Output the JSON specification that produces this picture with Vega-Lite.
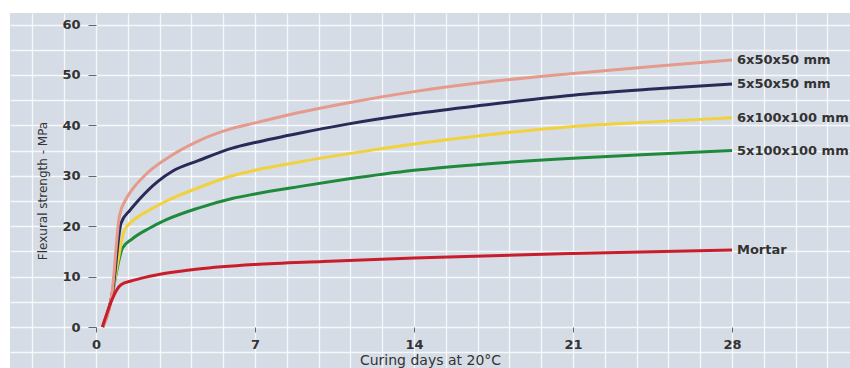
{
  "$schema": "https://vega.github.io/schema/vega-lite/v6.json",
  "width": 840,
  "height": 355,
  "autosize": {"type": "none"},
  "padding": {"left": 10, "top": 13, "right": 0, "bottom": 0},
  "background": "white",
  "config": {"view": {"fill": "#d5dce6", "stroke": null}, "font": "DejaVu Sans"},
  "datasets": {
    "curves": [
      {"series": "5x100x100 mm", "day": 0.3, "value": 0},
      {"series": "5x100x100 mm", "day": 0.72, "value": 6.5},
      {"series": "5x100x100 mm", "day": 0.9, "value": 10.9},
      {"series": "5x100x100 mm", "day": 1.16, "value": 15.6},
      {"series": "5x100x100 mm", "day": 1.6, "value": 17.5},
      {"series": "5x100x100 mm", "day": 2.35, "value": 19.6},
      {"series": "5x100x100 mm", "day": 3.1, "value": 21.3},
      {"series": "5x100x100 mm", "day": 4.5, "value": 23.6},
      {"series": "5x100x100 mm", "day": 6, "value": 25.5},
      {"series": "5x100x100 mm", "day": 7, "value": 26.4},
      {"series": "5x100x100 mm", "day": 9, "value": 27.9},
      {"series": "5x100x100 mm", "day": 11, "value": 29.3},
      {"series": "5x100x100 mm", "day": 14, "value": 31.1},
      {"series": "5x100x100 mm", "day": 17, "value": 32.3},
      {"series": "5x100x100 mm", "day": 21, "value": 33.5},
      {"series": "5x100x100 mm", "day": 24.5, "value": 34.3},
      {"series": "5x100x100 mm", "day": 28, "value": 35.0},
      {"series": "6x100x100 mm", "day": 0.3, "value": 0},
      {"series": "6x100x100 mm", "day": 0.75, "value": 7.3},
      {"series": "6x100x100 mm", "day": 0.95, "value": 12.7},
      {"series": "6x100x100 mm", "day": 1.25, "value": 19.2},
      {"series": "6x100x100 mm", "day": 1.6, "value": 21.0},
      {"series": "6x100x100 mm", "day": 2.35, "value": 23.2},
      {"series": "6x100x100 mm", "day": 3.1, "value": 25.0},
      {"series": "6x100x100 mm", "day": 4.5, "value": 27.6},
      {"series": "6x100x100 mm", "day": 6, "value": 30.0},
      {"series": "6x100x100 mm", "day": 7, "value": 31.1},
      {"series": "6x100x100 mm", "day": 9, "value": 32.8},
      {"series": "6x100x100 mm", "day": 11, "value": 34.3},
      {"series": "6x100x100 mm", "day": 14, "value": 36.3},
      {"series": "6x100x100 mm", "day": 17, "value": 38.0},
      {"series": "6x100x100 mm", "day": 21, "value": 39.8},
      {"series": "6x100x100 mm", "day": 24.5, "value": 40.7},
      {"series": "6x100x100 mm", "day": 28, "value": 41.5},
      {"series": "5x50x50 mm", "day": 0.3, "value": 0},
      {"series": "5x50x50 mm", "day": 0.74, "value": 7.3},
      {"series": "5x50x50 mm", "day": 1.1, "value": 20.6},
      {"series": "5x50x50 mm", "day": 1.5, "value": 23.2},
      {"series": "5x50x50 mm", "day": 1.9, "value": 25.3},
      {"series": "5x50x50 mm", "day": 2.7, "value": 28.8},
      {"series": "5x50x50 mm", "day": 3.4, "value": 31.0},
      {"series": "5x50x50 mm", "day": 4.5, "value": 33.0},
      {"series": "5x50x50 mm", "day": 6, "value": 35.5},
      {"series": "5x50x50 mm", "day": 7, "value": 36.6},
      {"series": "5x50x50 mm", "day": 9, "value": 38.5},
      {"series": "5x50x50 mm", "day": 11, "value": 40.2},
      {"series": "5x50x50 mm", "day": 14, "value": 42.3},
      {"series": "5x50x50 mm", "day": 17, "value": 44.0},
      {"series": "5x50x50 mm", "day": 21, "value": 46.0},
      {"series": "5x50x50 mm", "day": 24.5, "value": 47.2},
      {"series": "5x50x50 mm", "day": 28, "value": 48.2},
      {"series": "6x50x50 mm", "day": 0.3, "value": 0},
      {"series": "6x50x50 mm", "day": 0.72, "value": 7.3},
      {"series": "6x50x50 mm", "day": 1.03, "value": 22.0},
      {"series": "6x50x50 mm", "day": 1.3, "value": 25.2},
      {"series": "6x50x50 mm", "day": 1.55, "value": 27.0},
      {"series": "6x50x50 mm", "day": 2.2, "value": 30.3},
      {"series": "6x50x50 mm", "day": 3.1, "value": 33.4},
      {"series": "6x50x50 mm", "day": 4.5, "value": 36.9},
      {"series": "6x50x50 mm", "day": 6, "value": 39.4},
      {"series": "6x50x50 mm", "day": 7, "value": 40.5},
      {"series": "6x50x50 mm", "day": 9, "value": 42.6},
      {"series": "6x50x50 mm", "day": 11, "value": 44.4},
      {"series": "6x50x50 mm", "day": 14, "value": 46.7},
      {"series": "6x50x50 mm", "day": 17, "value": 48.5},
      {"series": "6x50x50 mm", "day": 21, "value": 50.3},
      {"series": "6x50x50 mm", "day": 24.5, "value": 51.7},
      {"series": "6x50x50 mm", "day": 28, "value": 53.0},
      {"series": "Mortar", "day": 0.28, "value": 0},
      {"series": "Mortar", "day": 1.1, "value": 8.4},
      {"series": "Mortar", "day": 1.6, "value": 9.2},
      {"series": "Mortar", "day": 2.2, "value": 9.9},
      {"series": "Mortar", "day": 3, "value": 10.6},
      {"series": "Mortar", "day": 4.5, "value": 11.5},
      {"series": "Mortar", "day": 7, "value": 12.4},
      {"series": "Mortar", "day": 10, "value": 13.0},
      {"series": "Mortar", "day": 14, "value": 13.7},
      {"series": "Mortar", "day": 21, "value": 14.6},
      {"series": "Mortar", "day": 28, "value": 15.3}
    ]
  },
  "data": {"name": "curves"},
  "encoding": {
    "x": {
      "field": "day",
      "type": "quantitative",
      "scale": {"domain": [-3.786, 33.195], "nice": false, "zero": false},
      "axis": {
        "values": [-2.8, -1.4, 0, 1.4, 2.8, 4.2, 5.6, 7, 8.4, 9.8, 11.2, 12.6, 14, 15.4, 16.8, 18.2, 19.6, 21, 22.4, 23.8, 25.2, 26.6, 28, 29.4, 30.8, 32.2],
        "offset": -41,
        "domain": false,
        "grid": true,
        "gridColor": "white",
        "gridWidth": 1.3,
        "gridOpacity": 0.8,
        "tickColor": "#666666",
        "tickSize": 5,
        "tickWidth": 1,
        "tickOpacity": {"condition": {"test": "abs(datum.value % 7) < 0.001 && datum.value >= 0 && datum.value <= 28", "value": 1}, "value": 0},
        "labelExpr": "abs(datum.value % 7) < 0.001 && datum.value >= 0 && datum.value <= 28 ? format(datum.value, 'd') : ''",
        "labelFont": "DejaVu Sans",
        "labelFontWeight": "bold",
        "labelFontSize": 13,
        "labelColor": "#333333",
        "labelPadding": 6,
        "title": "Curing days at 20°C",
        "titleFont": "DejaVu Sans",
        "titleFontSize": 14,
        "titleFontWeight": "normal",
        "titleColor": "#333333",
        "titlePadding": 2
      }
    },
    "y": {
      "field": "value",
      "type": "quantitative",
      "scale": {"domain": [-8.13, 62.3], "nice": false, "zero": false},
      "axis": {
        "values": [-5, 0, 5, 10, 15, 20, 25, 30, 35, 40, 45, 50, 55, 60],
        "offset": -86,
        "domain": false,
        "grid": true,
        "gridColor": "white",
        "gridWidth": 1.3,
        "gridOpacity": 0.8,
        "tickColor": "#666666",
        "tickSize": 8,
        "tickWidth": 1,
        "tickOpacity": {"condition": {"test": "datum.value % 10 == 0 && datum.value >= 0 && datum.value <= 60", "value": 1}, "value": 0},
        "labelExpr": "datum.value % 10 == 0 && datum.value >= 0 && datum.value <= 60 ? format(datum.value, 'd') : ''",
        "labelFont": "DejaVu Sans",
        "labelFontWeight": "bold",
        "labelFontSize": 13,
        "labelColor": "#333333",
        "labelPadding": 8,
        "title": "Flexural strength - MPa",
        "titleFont": "DejaVu Sans",
        "titleFontSize": 12,
        "titleFontWeight": "normal",
        "titleColor": "#333333",
        "titlePadding": 12
      }
    }
  },
  "layer": [
    {
      "mark": {"type": "line", "strokeWidth": 3, "interpolate": "monotone", "clip": false},
      "encoding": {
        "color": {
          "field": "series",
          "type": "nominal",
          "scale": {
            "domain": ["6x50x50 mm", "5x50x50 mm", "6x100x100 mm", "5x100x100 mm", "Mortar"],
            "range": ["#e59a8c", "#2a2a58", "#f1d13c", "#1f8a3c", "#c81e2b"]
          },
          "legend": null
        }
      }
    },
    {
      "data": {"values": [{}]},
      "mark": {"type": "rule", "color": "#666666", "strokeWidth": 1.5},
      "encoding": {"x": {"datum": 0}, "x2": {"datum": 28}, "y": {"datum": 0}}
    },
    {
      "data": {"values": [{}]},
      "mark": {"type": "rule", "color": "#666666", "strokeWidth": 1.5},
      "encoding": {"x": {"datum": 0}, "y": {"datum": 0}, "y2": {"datum": 60}}
    },
    {
      "transform": [{"filter": "datum.day == 28"}],
      "mark": {"type": "text", "align": "left", "baseline": "middle", "dx": 5, "dy": 0, "font": "DejaVu Sans", "fontWeight": "bold", "fontSize": 13, "color": "#333333"},
      "encoding": {"text": {"field": "series"}}
    }
  ]
}
